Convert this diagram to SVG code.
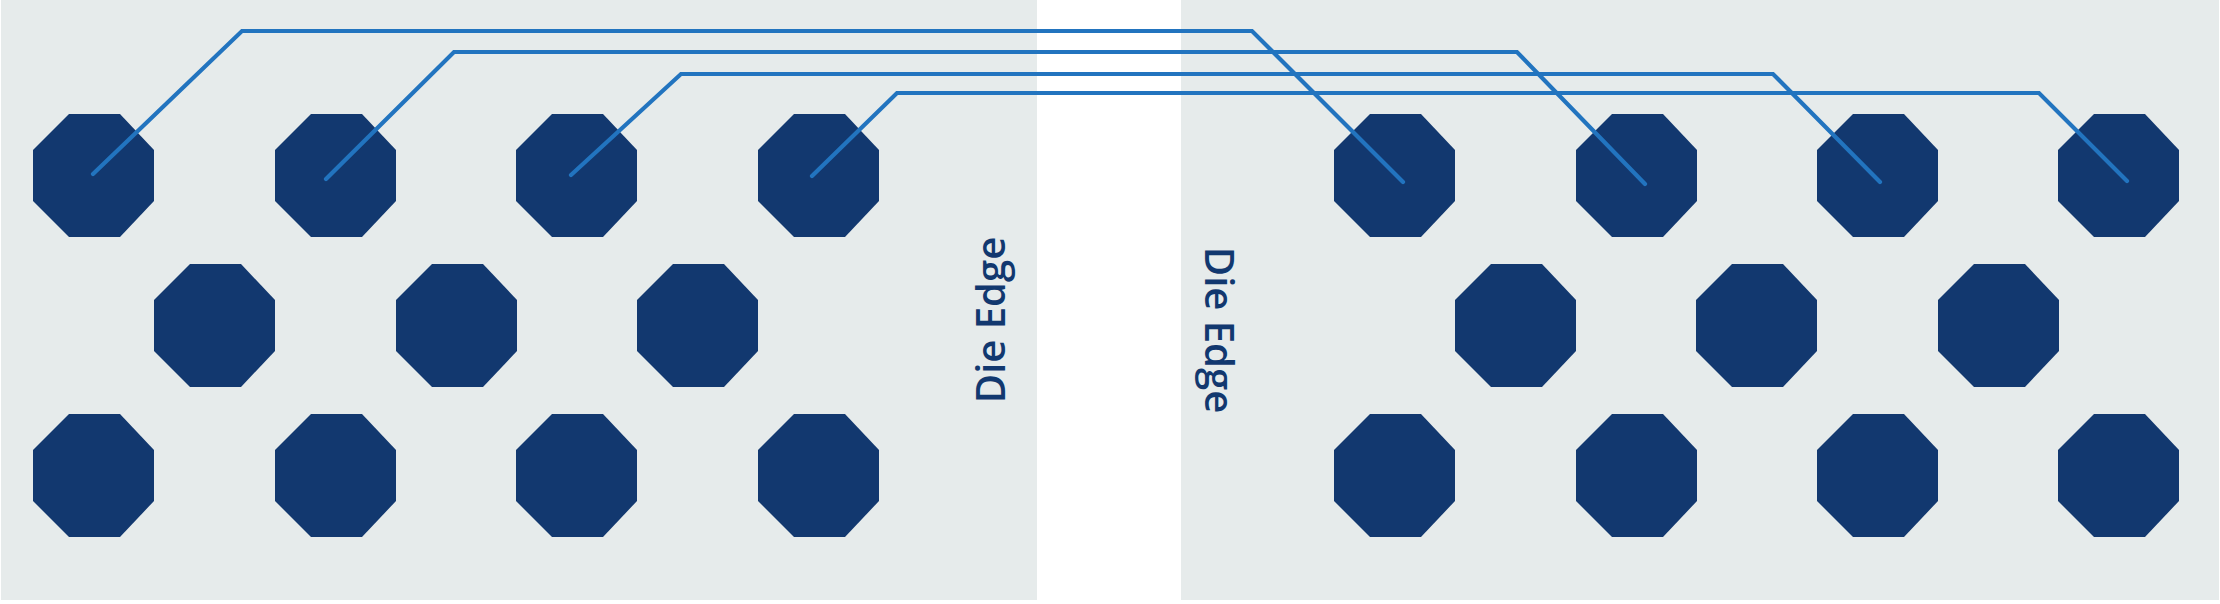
<svg xmlns="http://www.w3.org/2000/svg" xmlns:xlink="http://www.w3.org/1999/xlink" width="2220" height="604" viewBox="0 0 2220 604">
<style>
.panel{fill:#e6ebeb}
.pad{fill:#12386f}
.trace{fill:none;stroke:#2274bf;stroke-width:4.2;stroke-linecap:round;stroke-linejoin:miter}
.lbl{font-family:"Open Sans","Noto Sans","DejaVu Sans",sans-serif;font-size:40px;font-weight:600;fill:#12386f;text-anchor:middle}
</style>
<defs>
<path id="oct" d="M36,0 H87 L121,36 V87 L87,123 H36 L0,87 V36 Z"/>
</defs>
<rect width="2220" height="604" fill="#ffffff"/>
<g id="die-left">
<rect class="panel" x="1" y="0" width="1036" height="600"/>
<text class="lbl" transform="translate(1005,320) rotate(-90)">Die Edge</text>
</g>
<g id="die-right">
<rect class="panel" x="1181" y="0" width="1038" height="600"/>
<text class="lbl" transform="translate(1205,330) rotate(90)">Die Edge</text>
</g>
<g id="pads-left" class="pad">
<g id="pL1"><use xlink:href="#oct" href="#oct" x="33" y="114"/></g>
<g id="pL2"><use xlink:href="#oct" href="#oct" x="275" y="114"/></g>
<g id="pL3"><use xlink:href="#oct" href="#oct" x="516" y="114"/></g>
<g id="pL4"><use xlink:href="#oct" href="#oct" x="758" y="114"/></g>
<g id="pL5"><use xlink:href="#oct" href="#oct" x="154" y="264"/></g>
<g id="pL6"><use xlink:href="#oct" href="#oct" x="396" y="264"/></g>
<g id="pL7"><use xlink:href="#oct" href="#oct" x="637" y="264"/></g>
<g id="pL8"><use xlink:href="#oct" href="#oct" x="33" y="414"/></g>
<g id="pL9"><use xlink:href="#oct" href="#oct" x="275" y="414"/></g>
<g id="pL10"><use xlink:href="#oct" href="#oct" x="516" y="414"/></g>
<g id="pL11"><use xlink:href="#oct" href="#oct" x="758" y="414"/></g>
</g>
<g id="pads-right" class="pad">
<g id="pR1"><use xlink:href="#oct" href="#oct" x="1334" y="114"/></g>
<g id="pR2"><use xlink:href="#oct" href="#oct" x="1576" y="114"/></g>
<g id="pR3"><use xlink:href="#oct" href="#oct" x="1817" y="114"/></g>
<g id="pR4"><use xlink:href="#oct" href="#oct" x="2058" y="114"/></g>
<g id="pR5"><use xlink:href="#oct" href="#oct" x="1455" y="264"/></g>
<g id="pR6"><use xlink:href="#oct" href="#oct" x="1696" y="264"/></g>
<g id="pR7"><use xlink:href="#oct" href="#oct" x="1938" y="264"/></g>
<g id="pR8"><use xlink:href="#oct" href="#oct" x="1334" y="414"/></g>
<g id="pR9"><use xlink:href="#oct" href="#oct" x="1576" y="414"/></g>
<g id="pR10"><use xlink:href="#oct" href="#oct" x="1817" y="414"/></g>
<g id="pR11"><use xlink:href="#oct" href="#oct" x="2058" y="414"/></g>
</g>
<g id="connectors">
<polyline class="trace" points="93,174 242,31 1252,31 1403,182"/>
<polyline class="trace" points="326,179 454,52 1517,52 1645,184"/>
<polyline class="trace" points="571,175 681,74 1773,74 1880,182"/>
<polyline class="trace" points="812,176 897,93 2039,93 2127,181"/>
</g>
</svg>
